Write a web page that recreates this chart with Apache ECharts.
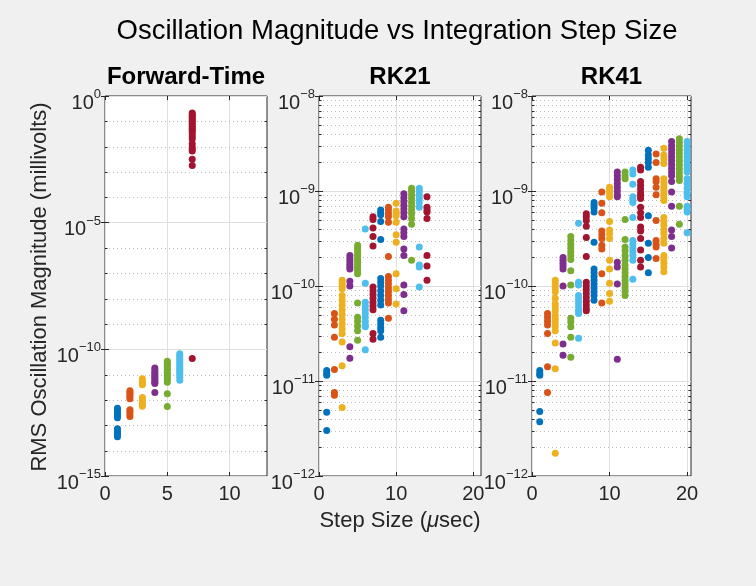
<!DOCTYPE html>
<html><head><meta charset="utf-8">
<script src="https://cdn.jsdelivr.net/npm/echarts@6/dist/echarts.min.js"></script>
<style>html,body{margin:0;padding:0;background:#f0f0f0;}#c{width:756px;height:586px;}</style>
</head><body><div id="c"></div>
<script>
// ---------- DATA (exponents of 10) ----------
const colors = ['#0072BD','#D95319','#EDB120','#7E2F8E','#77AC30','#4DBEEE','#A2142F'];
const panelTitles = ['Forward-Time','RK21','RK41'];
const mainTitle = 'Oscillation Magnitude vs Integration Step Size';
const yLabel = 'RMS Oscillation Magnitude (millivolts)';
const xLabel = 'Step Size (μsec)';

const ftTicksX = [0,5,10];
const ftTicksYExp = [0,-5,-10,-15];
const rkTicksX = [0,10,20];
const rkTicksYExp = [-8,-9,-10,-11,-12];

// Forward-Time: step sizes 1..7
const ftY = [
  [-12.33,-12.4,-12.47,-12.55,-12.62,-12.7,-13.13,-13.2,-13.28,-13.36,-13.45],
  [-11.63,-11.7,-11.78,-11.86,-11.95,-12.38,-12.46,-12.55,-12.65],
  [-11.16,-11.25,-11.33,-11.4,-11.9,-12.0,-12.1,-12.2,-12.25],
  [-10.74,-10.82,-10.9,-10.98,-11.06,-11.14,-11.22,-11.3,-11.35,-11.7],
  [-10.47,-10.55,-10.63,-10.72,-10.8,-10.88,-10.96,-11.04,-11.12,-11.2,-11.3,-11.75,-12.26],
  [-10.17,-10.25,-10.33,-10.41,-10.5,-10.58,-10.66,-10.75,-10.83,-10.92,-11.0,-11.1,-11.22],
  [-10.36,-0.67,-0.73,-0.8,-0.87,-0.94,-1.0,-1.07,-1.14,-1.2,-1.27,-1.34,-1.4,-1.5,-1.6,-1.7,-1.88,-2.01,-2.1,-2.17,-2.5,-2.74]
];
// RK21: step sizes 1..14
const rk21Y = [
  [-10.89,-10.92,-10.94,-11.33,-11.52],
  [-10.29,-10.35,-10.41,-10.54,-10.88,-11.12,-11.15],
  [-9.94,-9.97,-10.0,-10.03,-10.1,-10.15,-10.2,-10.25,-10.3,-10.35,-10.4,-10.45,-10.5,-10.59,-10.84,-11.28],
  [-9.68,-9.71,-9.74,-9.77,-9.8,-9.82,-9.95,-10.0,-10.64,-10.76],
  [-9.57,-9.6,-9.63,-9.66,-9.69,-9.72,-9.75,-9.78,-9.81,-9.84,-9.87,-10.18,-10.33,-10.37,-10.42,-10.47,-10.57],
  [-9.4,-9.97,-10.17,-10.21,-10.25,-10.29,-10.33,-10.37,-10.41,-10.43,-10.67],
  [-9.27,-9.3,-9.39,-9.48,-9.58,-10.01,-10.05,-10.09,-10.13,-10.17,-10.21,-10.25,-10.5,-10.56],
  [-9.2,-9.23,-9.25,-9.32,-9.51,-9.92,-9.96,-10.0,-10.05,-10.1,-10.15,-10.2,-10.36,-10.4,-10.44,-10.47,-10.54],
  [-9.17,-9.2,-9.24,-9.27,-9.33,-9.69,-9.9,-9.94,-9.98,-10.02,-10.06,-10.1,-10.14,-10.18,-10.34],
  [-9.13,-9.21,-9.24,-9.26,-9.33,-9.46,-9.54,-9.87,-10.03,-10.19],
  [-9.03,-9.07,-9.11,-9.15,-9.19,-9.23,-9.27,-9.4,-9.44,-9.48,-9.61,-9.68,-9.99,-10.09,-10.26],
  [-8.97,-9.0,-9.04,-9.08,-9.12,-9.16,-9.2,-9.24,-9.29,-9.35,-9.73],
  [-8.97,-9.0,-9.04,-9.08,-9.12,-9.17,-9.59,-9.78,-9.8,-10.01],
  [-9.06,-9.17,-9.2,-9.22,-9.29,-9.68,-9.79,-9.94]
];
// RK41: step sizes 1..20
const rk41Y = [
  [-10.89,-10.92,-10.94,-11.32,-11.43],
  [-10.29,-10.33,-10.37,-10.41,-10.5,-10.85,-11.12],
  [-9.94,-9.98,-10.02,-10.06,-10.13,-10.19,-10.23,-10.26,-10.31,-10.35,-10.39,-10.43,-10.47,-10.6,-10.87,-11.76],
  [-9.7,-9.73,-9.76,-9.79,-9.82,-10.0,-10.61,-10.73],
  [-9.48,-9.52,-9.56,-9.6,-9.64,-9.68,-9.72,-9.84,-9.99,-10.34,-10.38,-10.43,-10.54,-10.75],
  [-9.34,-9.96,-9.99,-10.1,-10.14,-10.18,-10.22,-10.26,-10.29,-10.55],
  [-9.24,-9.27,-9.31,-9.37,-9.49,-9.69,-9.96,-10.0,-10.04,-10.08,-10.12,-10.16,-10.2,-10.24,-10.26],
  [-9.12,-9.15,-9.18,-9.22,-9.54,-9.82,-9.86,-9.9,-9.94,-9.98,-10.02,-10.06,-10.1,-10.15],
  [-9.01,-9.13,-9.23,-9.42,-9.46,-9.5,-9.57,-9.61,-9.87,-10.18],
  [-8.96,-8.99,-9.02,-9.06,-9.32,-9.41,-9.45,-9.5,-9.73,-9.82,-9.97,-10.08,-10.16],
  [-8.8,-8.84,-8.88,-8.92,-8.96,-9.0,-9.04,-9.06,-9.75,-9.8,-9.98,-10.77],
  [-8.8,-8.84,-8.87,-9.3,-9.51,-9.59,-9.63,-9.68,-9.73,-9.78,-9.82,-9.86,-9.9,-9.94,-9.98,-10.02,-10.06,-10.1],
  [-8.78,-8.82,-8.93,-9.06,-9.09,-9.12,-9.28,-9.52,-9.56,-9.6,-9.64,-9.68,-9.73,-9.93],
  [-8.75,-8.78,-8.9,-8.94,-8.98,-9.02,-9.05,-9.08,-9.17,-9.23,-9.28,-9.38,-9.42,-9.5,-9.62,-9.73,-9.8],
  [-8.57,-8.62,-8.66,-8.7,-8.75,-9.26,-9.55,-9.7,-9.86],
  [-8.61,-8.7,-8.87,-8.9,-8.96,-9.04,-9.31,-9.52,-9.56,-9.59,-9.71],
  [-8.55,-8.62,-8.66,-8.71,-8.87,-8.91,-8.95,-8.99,-9.03,-9.07,-9.1,-9.28,-9.32,-9.36,-9.41,-9.45,-9.5,-9.55,-9.68,-9.72,-9.76,-9.8,-9.85],
  [-8.48,-8.52,-8.56,-8.6,-8.64,-8.68,-8.72,-8.76,-8.8,-8.84,-8.9,-9.01,-9.16,-9.41,-9.48,-9.6],
  [-8.45,-8.49,-8.53,-8.57,-8.61,-8.65,-8.69,-8.73,-8.77,-8.81,-8.85,-8.89,-9.16,-9.35],
  [-8.48,-8.52,-8.56,-8.6,-8.64,-8.68,-8.72,-8.76,-8.8,-8.87,-8.92,-8.97,-9.02,-9.06,-9.16,-9.19,-9.22,-9.44]
];

// ---------- LAYOUT ----------
const FONT = 'Liberation Sans, Arial, sans-serif';
const TXT = '#262626';
const panels = [
  {left:105, width:162, xMax:13,   xInt:5,  yMin:1e-15, yMax:1,    yInt:5, data:ftY,   ticksX:ftTicksX},
  {left:319, width:162, xMax:21,   xInt:10, yMin:1e-12, yMax:1e-8, yInt:1, data:rk21Y, ticksX:rkTicksX},
  {left:532, width:159, xMax:20.5, xInt:10, yMin:1e-12, yMax:1e-8, yInt:1, data:rk41Y, ticksX:rkTicksX}
];
const TOP = 96, HEIGHT = 380;

// minor grid values
function minorValues(p, i){
  const out = [];
  const lo = Math.round(Math.log10(p.yMin)), hi = Math.round(Math.log10(p.yMax));
  if (i === 0){
    for (let e = lo+1; e < hi; e++) if (e % 5 !== 0) out.push([0, Math.pow(10, e)]);
  } else {
    for (let e = lo; e < hi; e++) for (let k = 2; k <= 9; k++) out.push([0, k*Math.pow(10, e)]);
  }
  return out;
}
const expText = v => { const e = Math.round(Math.log10(v)); return (e < 0 ? '\u2212' : '') + Math.abs(e); };

const grid = [], xAxis = [], yAxis = [], series = [];
panels.forEach((p, i) => {
  grid.push({left:p.left, top:TOP, width:p.width, height:HEIGHT, show:true,
    backgroundColor:'#ffffff', borderColor:TXT, borderWidth:1, containLabel:false});
  const tick = {show:true, inside:true, length:4, lineStyle:{color:TXT, width:1}};
  const xtick = Object.assign({}, tick, {customValues:p.ticksX});
  xAxis.push({type:'value', gridIndex:i, min:0, max:p.xMax, interval:p.xInt, position:'bottom',
    axisLine:{show:false}, axisTick:xtick,
    axisLabel:{color:TXT, fontSize:20, fontFamily:FONT, margin:8, customValues:p.ticksX,
      formatter: v => String(v)},
    splitLine:{show:true, lineStyle:{color:'#dfdfdf', width:1}}});
  xAxis.push({type:'value', gridIndex:i, min:0, max:p.xMax, interval:p.xInt, position:'top',
    axisLine:{show:false}, axisTick:xtick, axisLabel:{show:false}, splitLine:{show:false}});
  const yl = {type:'log', logBase:10, gridIndex:i, min:p.yMin, max:p.yMax, interval:p.yInt,
    axisLine:{show:false}, axisTick:tick};
  yAxis.push(Object.assign({}, yl, {position:'left',
    axisLabel:{show:true, color:TXT, fontFamily:FONT, margin:4, showMinLabel:true, showMaxLabel:true,
      padding:[9,0,0,0],
      formatter: v => '{b|10}{e|' + expText(v) + '}',
      rich:{b:{fontSize:20, fontFamily:FONT, color:TXT, verticalAlign:'bottom'},
            e:{fontSize:13, fontFamily:FONT, color:TXT, verticalAlign:'bottom', padding:[0,0,12,0]}}},
    splitLine:{show:true, lineStyle:{color:'#dfdfdf', width:1}}}));
  yAxis.push(Object.assign({}, yl, {position:'right', axisLabel:{show:false}, splitLine:{show:false}}));

  // minor grid + minor ticks
  series.push({type:'custom', xAxisIndex:2*i, yAxisIndex:2*i, silent:true, z:1, clip:false,
    data:minorValues(p, i),
    renderItem:(params, api) => {
      const y = api.value(1);
      const a = api.coord([0, y]), b = api.coord([p.xMax, y]);
      const yy = Math.round(a[1]) + 0.5;
      return {type:'group', children:[
        {type:'line', shape:{x1:a[0], y1:yy, x2:b[0], y2:yy}, style:{stroke:'#bdbdbd', lineWidth:1, lineDash:[1,3]}},
        {type:'line', shape:{x1:a[0], y1:yy, x2:a[0]+2.5, y2:yy}, style:{stroke:TXT, lineWidth:1}},
        {type:'line', shape:{x1:b[0], y1:yy, x2:b[0]-2.5, y2:yy}, style:{stroke:TXT, lineWidth:1}}
      ]};
    }});

  p.data.forEach((ys, j) => {
    const x = j + 1;
    series.push({type:'scatter', xAxisIndex:2*i, yAxisIndex:2*i, symbol:'circle', symbolSize:7, z:3,
      itemStyle:{color:colors[j % 7], opacity:1},
      data: ys.map(e => [x, Math.pow(10, e)])});
  });
});

const graphic = [
  {type:'text', x:397, y:31, style:{text:mainTitle, fontSize:27.5, fontFamily:FONT, fill:'#000', align:'center', verticalAlign:'middle'}},
  {type:'text', x:400, y:521, style:{text:'Step Size ({i|μ}sec)', fontSize:22, fontFamily:FONT, fill:TXT, align:'center', verticalAlign:'middle',
     rich:{i:{fontStyle:'italic', fontSize:22, fontFamily:FONT, fill:TXT}}}},
  {type:'text', x:40, y:287, rotation:Math.PI/2, style:{text:yLabel, fontSize:22, fontFamily:FONT, fill:TXT, align:'center', verticalAlign:'middle'}}
];
panels.forEach((p, i) => {
  graphic.push({type:'text', x:p.left + p.width/2, y:77, style:{text:panelTitles[i], fontSize:24, fontWeight:'bold', fontFamily:FONT, fill:'#000', align:'center', verticalAlign:'middle'}});
});

const chart = echarts.init(document.getElementById('c'), null, {renderer:'canvas'});
chart.setOption({backgroundColor:'#f0f0f0', animation:false, grid, xAxis, yAxis, series, graphic});
</script></body></html>
